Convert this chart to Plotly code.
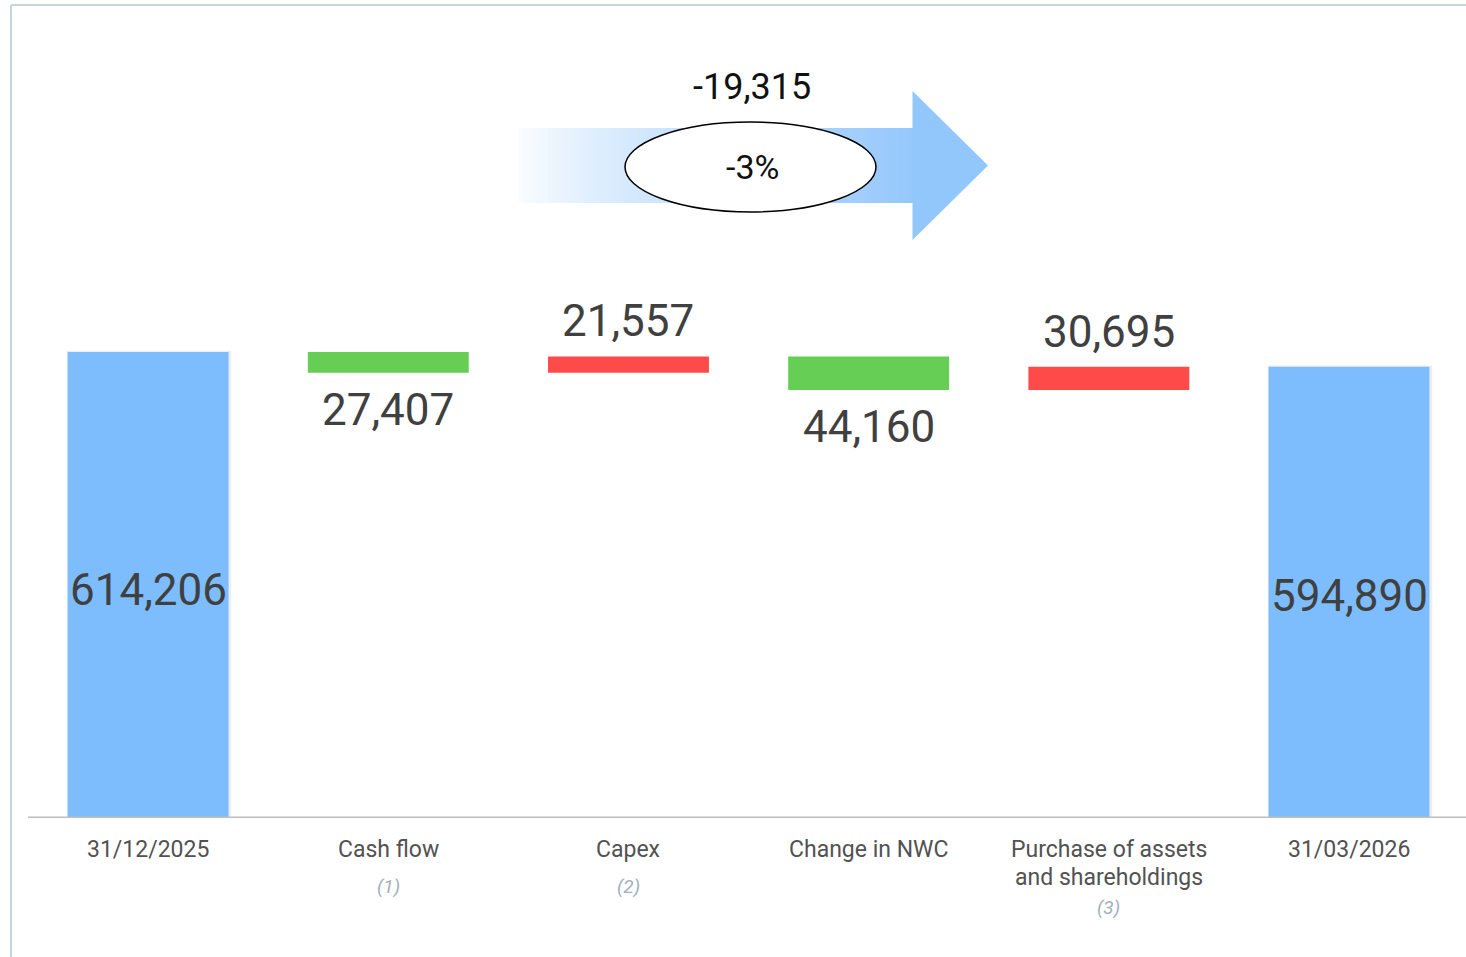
import plotly.graph_objects as go

# ---- data ----
categories = ["31/12/2025", "Cash flow", "Capex", "Change in NWC",
              "Purchase of assets<br>and shareholdings", "31/03/2026"]
footnotes = ["", "(1)", "(2)", "", "(3)", ""]
start_value = 614206
deltas = [-27407, 21557, -44160, 30695]
end_value = 594890
net_change = -19315
net_change_pct = -3

BLUE = "#7dbdfd"
GREEN = "#66ce55"
RED = "#ff4a4a"
FONT = "Roboto, sans-serif"

# ---- compute bars ----
bases, heights, colors = [0], [start_value], [BLUE]
level = start_value
for d in deltas:
    new = level + d
    bases.append(min(level, new))
    heights.append(abs(d))
    colors.append(GREEN if d < 0 else RED)
    level = new
bases.append(0)
heights.append(end_value)
colors.append(BLUE)

xs = list(range(len(categories)))

fig = go.Figure()
# subtle shadow for total bars
for i in (0, len(xs) - 1):
    fig.add_trace(go.Bar(x=[xs[i] + 0.004], y=[heights[i] + 1500], base=[bases[i]],
                         width=0.685, marker=dict(color="rgba(0,0,0,0.07)", line_width=0),
                         hoverinfo="skip", showlegend=False))
fig.add_trace(go.Bar(x=xs, y=heights, base=bases, width=0.67,
                     marker=dict(color=colors, line_width=0),
                     hoverinfo="skip", showlegend=False))

VAL_FONT = dict(family=FONT, size=44, color="#404040")
annotations = []
# value labels
annotations.append(dict(x=0, y=start_value / 2, xref="x", yref="y", text=f"{start_value:,}",
                        showarrow=False, yshift=-5, xanchor="center", yanchor="middle",
                        font=VAL_FONT))
annotations.append(dict(x=len(xs) - 1, y=end_value / 2, xref="x", yref="y", text=f"{end_value:,}",
                        showarrow=False, yshift=-4, xanchor="center", yanchor="middle",
                        font=VAL_FONT))
for i, d in enumerate(deltas, start=1):
    if d < 0:
        y = bases[i]
        ys = -37
    else:
        y = bases[i] + heights[i]
        ys = 35
    annotations.append(dict(x=i, y=y, xref="x", yref="y", text=f"{abs(d):,}",
                            showarrow=False, yshift=ys, xanchor="center", yanchor="middle",
                            font=VAL_FONT))


def py(pix):
    return (818 - pix) / 813


def px(pix):
    return (pix - 28) / 1438


# category labels
for i, c in enumerate(categories):
    lines = c.split("<br>")
    for k, line in enumerate(lines):
        annotations.append(dict(x=i, y=py(850 + 28 * k), xref="x", yref="paper", text=line,
                                showarrow=False, xanchor="center", yanchor="middle",
                                font=dict(family=FONT, size=23, color="#525252")))
    if footnotes[i]:
        fy = 907 if len(lines) > 1 else 886
        annotations.append(dict(x=i, y=py(fy), xref="x", yref="paper",
                                text=f"<i>{footnotes[i]}</i>", showarrow=False,
                                xanchor="center", yanchor="middle",
                                font=dict(family=FONT, size=19, color="#9fb0ba")))

# ---- arrow with gradient ----
shapes = []
x0, x1 = 513, 913
n = 80
c0 = (255, 255, 255)
c1 = (150, 200, 252)
for k in range(n):
    t = (k + 0.5) / n
    t2 = t ** 0.75
    col = tuple(int(round(c0[j] + (c1[j] - c0[j]) * t2)) for j in range(3))
    xa = x0 + (x1 - x0) * k / n
    xb = x0 + (x1 - x0) * (k + 1) / n + 0.6
    shapes.append(dict(type="rect", xref="paper", yref="paper",
                       x0=px(xa), x1=px(xb), y0=py(203), y1=py(128),
                       fillcolor=f"rgb{col}", line_width=0, layer="below"))
shapes.append(dict(type="path", xref="paper", yref="paper",
                   path=f"M {px(912.5)},{py(91)} L {px(988)},{py(165.5)} L {px(912.5)},{py(240)} Z",
                   fillcolor="rgb(146,199,252)", line_width=0, layer="below"))
# ellipse
shapes.append(dict(type="circle", xref="paper", yref="paper",
                   x0=px(625), x1=px(876), y0=py(212), y1=py(122),
                   fillcolor="white", line=dict(color="black", width=1.5)))

annotations.append(dict(x=px(752), y=py(87), xref="paper", yref="paper",
                        text=f"{net_change:,}", showarrow=False,
                        xanchor="center", yanchor="middle",
                        font=dict(family=FONT, size=36, color="#111111")))
annotations.append(dict(x=px(752), y=py(167), xref="paper", yref="paper",
                        text=f"{net_change_pct}%", showarrow=False,
                        xanchor="center", yanchor="middle",
                        font=dict(family=FONT, size=34, color="#111111")))

# frame lines and axis line
shapes.append(dict(type="line", xref="paper", yref="paper",
                   x0=px(11), x1=px(11), y0=py(957), y1=py(5),
                   line=dict(color="#c5d3e3", width=2)))
shapes.append(dict(type="line", xref="paper", yref="paper",
                   x0=px(11), x1=1.0, y0=py(5), y1=py(5),
                   line=dict(color="#c5d3e3", width=2)))
shapes.append(dict(type="line", xref="paper", yref="y",
                   x0=0, x1=1, y0=0, y1=0,
                   line=dict(color="#bebebe", width=3)))

fig.update_layout(
    width=1466, height=957,
    margin=dict(l=28, r=0, t=5, b=139),
    paper_bgcolor="white", plot_bgcolor="white",
    barmode="overlay",
    xaxis=dict(range=[-0.5, 5.487], showticklabels=False, showgrid=False,
               zeroline=False, showline=False, fixedrange=True),
    yaxis=dict(range=[0, 1071500], showticklabels=False, showgrid=False,
               zeroline=False, showline=False, fixedrange=True),
    shapes=shapes, annotations=annotations,
)

fig.write_html("out.html", config={"displayModeBar": False},
               post_script="document.body.style.margin='0px';")
